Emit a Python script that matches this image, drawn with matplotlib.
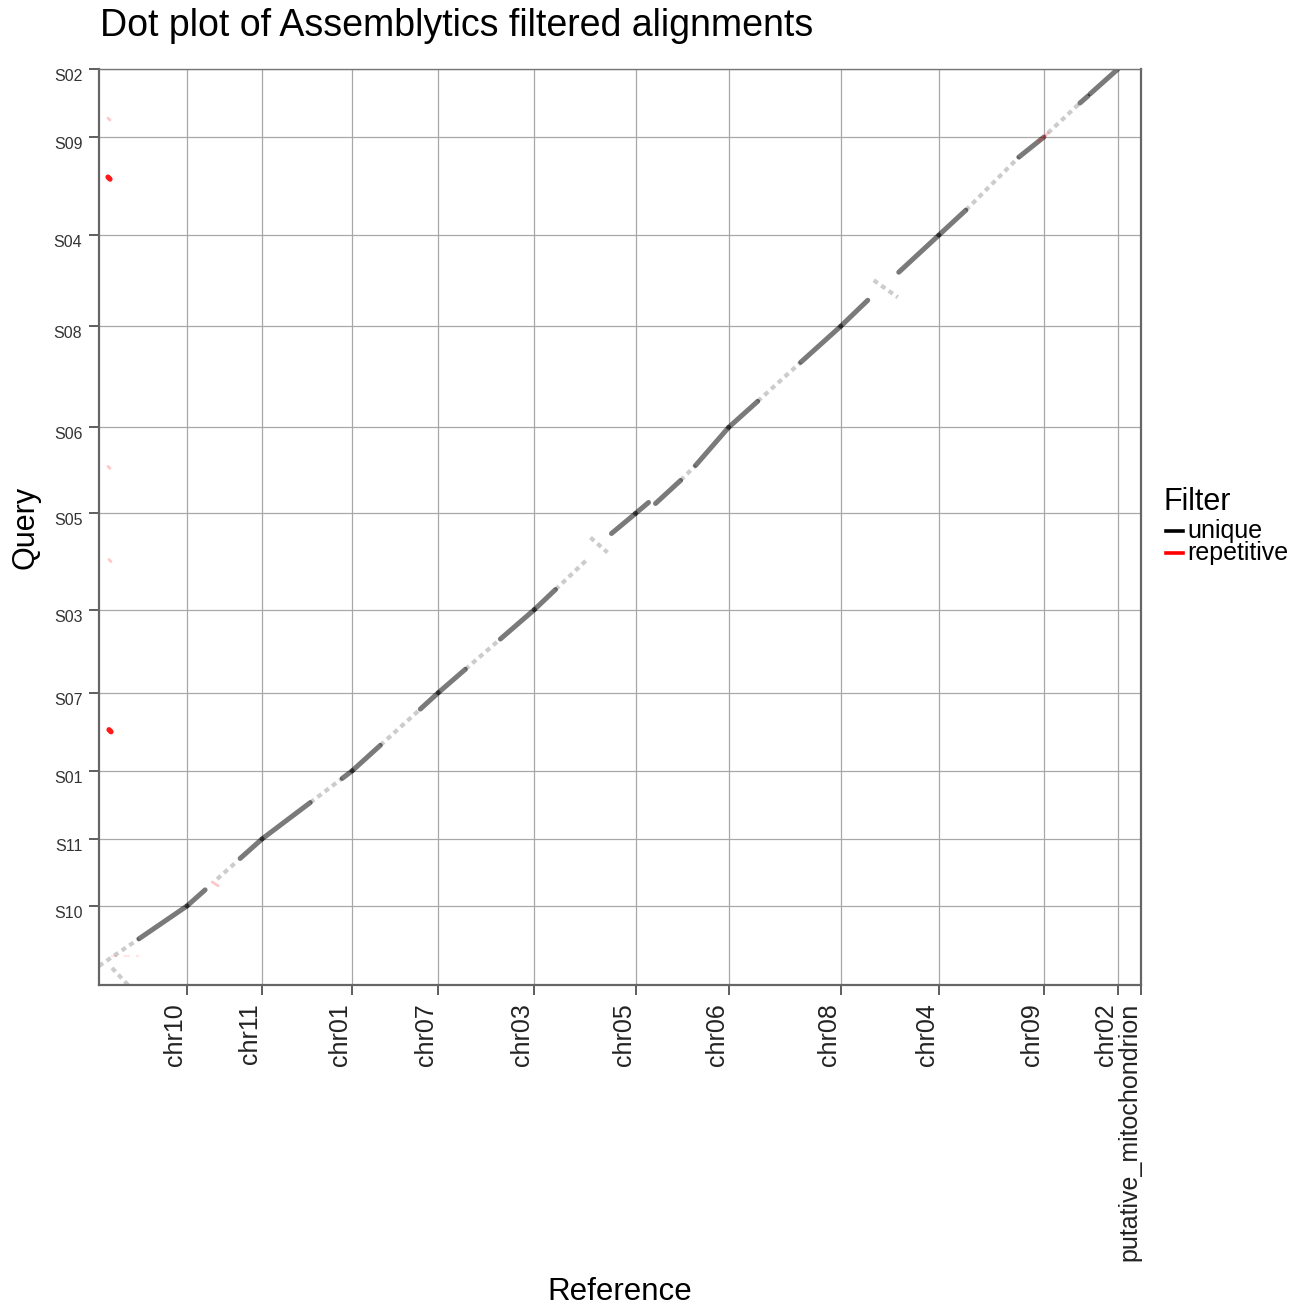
import numpy as np
import matplotlib.pyplot as plt
from matplotlib.lines import Line2D

plt.rcParams['font.family'] = ['Liberation Sans', 'DejaVu Sans']

# reference chromosomes (x axis) and their lengths in Mb
ref_chroms = ['chr10', 'chr11', 'chr01', 'chr07', 'chr03', 'chr05', 'chr06',
              'chr08', 'chr04', 'chr09', 'chr02', 'putative_mitochondrion']
ref_lengths = [44, 37.5, 45, 43, 48, 50.5, 46.5, 56, 49, 52.5, 37, 11.5]

# query scaffolds (y axis, bottom to top) and their lengths in Mb
qry_chroms = ['S10', 'S11', 'S01', 'S07', 'S03', 'S05', 'S06', 'S08', 'S04', 'S09', 'S02']
qry_lengths = [39.5, 33.5, 34, 39, 41.5, 48, 43, 50.5, 45.5, 49, 34]

# alignments: (ref, ref_start, ref_end, query, query_start, query_end), Mb
unique_strong = [
    ('chr10', 20, 44, 'S10', 23.1, 39.5),
    ('chr11', 0, 9, 'S11', 0, 8),
    ('chr11', 26.5, 37.5, 'S11', 23.7, 33.5),
    ('chr01', 0, 24, 'S01', 0, 18.1),
    ('chr01', 40, 45, 'S01', 30.2, 34),
    ('chr07', 0, 14, 'S07', 0, 12.7),
    ('chr07', 34, 43, 'S07', 30.8, 39),
    ('chr03', 0, 13.5, 'S03', 0, 11.7),
    ('chr03', 31, 48, 'S03', 26.8, 41.5),
    ('chr05', 0, 10.5, 'S05', 0, 10),
    ('chr05', 38.5, 50.5, 'S05', 38, 48),
    ('chr06', 0, 6.5, 'S06', 0, 5.5),
    ('chr06', 10, 22.5, 'S06', 5, 16.5),
    ('chr06', 30, 46.5, 'S06', 24, 43),
    ('chr08', 0, 14.5, 'S08', 0, 13),
    ('chr08', 36, 56, 'S08', 32.5, 50.5),
    ('chr04', 0, 13.5, 'S04', 0, 13),
    ('chr04', 29, 49, 'S04', 27, 45.5),
    ('chr09', 0, 13.5, 'S09', 0, 12.5),
    ('chr09', 40, 52.5, 'S09', 39, 49),
    ('chr02', 18, 22, 'S02', 17, 20.5),
    ('chr02', 23, 37, 'S02', 21.5, 34),
]

unique_weak = [
    ('chr10', 0, 20, 'S10', 9.5, 23.1),
    ('chr10', 6.5, 14.5, 'S10', 8.5, 0),
    ('chr11', 15, 25, 'S11', 13.4, 22.3),
    ('chr01', 24, 40, 'S01', 18.1, 30.2),
    ('chr07', 14, 34, 'S07', 12.7, 30.8),
    ('chr03', 13.5, 31, 'S03', 11.7, 26.8),
    ('chr05', 10.5, 26, 'S05', 10, 24.7),
    ('chr05', 28, 36.5, 'S05', 36, 28.5),
    ('chr06', 22.5, 30, 'S06', 16.5, 24),
    ('chr08', 14.5, 36, 'S08', 13, 32.5),
    ('chr04', 16.5, 28.5, 'S04', 23, 14.5),
    ('chr09', 13.5, 40, 'S09', 12.5, 39),
    ('chr02', 2, 18, 'S02', 2, 17),
]

repetitive = [
    ('chr10', 4.5, 5.5, 'S09', 29, 28),
    ('chr10', 5, 6, 'S07', 20.5, 19.5),
]

repetitive_faint = [
    ('chr10', 4.5, 5.5, 'S02', 9.5, 8.5),
    ('chr10', 4.5, 5.5, 'S06', 23.5, 22.5),
    ('chr10', 5, 6, 'S05', 25, 24),
    ('chr11', 12.5, 15.5, 'S11', 12, 10),
    ('chr09', 50, 52.5, 'S09', 47, 49),
    ('chr02', 0, 2, 'S02', 0, 2),
]

repetitive_trace = [
    ('chr10', 6, 20, 'S10', 14.5, 14.5),
]

# cumulative offsets so every chromosome gets its own slice of the axis
ref_ends = np.cumsum(ref_lengths)
ref_offset = dict(zip(ref_chroms, ref_ends - np.array(ref_lengths)))
qry_ends = np.cumsum(qry_lengths)
qry_offset = dict(zip(qry_chroms, qry_ends - np.array(qry_lengths)))


def draw(ax, rows, **style):
    for r, rs, re_, q, qs, qe in rows:
        x0 = ref_offset[r]
        y0 = qry_offset[q]
        ax.plot([x0 + rs, x0 + re_], [y0 + qs, y0 + qe], **style)


fig = plt.figure(figsize=(13.08, 13.11), dpi=100)
ax = fig.add_axes([99 / 1308, 1 - 985 / 1311, 1042 / 1308, 916 / 1311])

draw(ax, unique_weak, color='black', alpha=0.2, lw=3.0,
     linestyle=(0, (1.2, 1.0)), solid_capstyle='butt')
draw(ax, unique_strong, color='black', alpha=0.52, lw=3.6, solid_capstyle='round')
draw(ax, repetitive_trace, color='red', alpha=0.1, lw=1.5, linestyle=(0, (3, 3)))
draw(ax, repetitive_faint, color='red', alpha=0.22, lw=2.0, solid_capstyle='round')
draw(ax, repetitive, color='red', alpha=0.9, lw=3.8, solid_capstyle='round')

ax.set_xlim(0, ref_ends[-1])
ax.set_ylim(0, qry_ends[-1])

ax.set_xticks(ref_ends)
ax.set_xticklabels(ref_chroms, rotation=90, ha='right', va='top', fontsize=18,
                   color='#222222')
ax.set_yticks(qry_ends)
ax.set_yticklabels(qry_chroms, va='top', fontsize=11.5, color='#333333')
ax.tick_params(axis='both', direction='out', length=7, width=1.1, color='#333333')
ax.tick_params(axis='x', pad=6)
ax.tick_params(axis='y', pad=5)

ax.grid(True, color='#a8a8a8', lw=0.9)
ax.set_axisbelow(True)
for side in ['left', 'bottom', 'right']:
    ax.spines[side].set_color('#666666')
    ax.spines[side].set_linewidth(1.6)
ax.spines['top'].set_color('#777777')
ax.spines['top'].set_linewidth(1.0)

fig.text(100 / 1308, 1 - 26 / 1311, 'Dot plot of Assemblytics filtered alignments',
         fontsize=27, ha='left', va='center')
fig.text(620 / 1308, 1 - 1292 / 1311, 'Reference', fontsize=22.5, ha='center', va='center')
fig.text(25 / 1308, 1 - 527 / 1311, 'Query', fontsize=22, rotation=90,
         ha='center', va='center')

# legend
fig.text(1164 / 1308, 1 - 502 / 1311, 'Filter', fontsize=22, ha='left', va='center')
legend_items = [('unique', 'black', 531), ('repetitive', 'red', 553)]
for label, colour, ypx in legend_items:
    yf = 1 - ypx / 1311
    fig.add_artist(Line2D([1166 / 1308, 1183 / 1308], [yf, yf], color=colour, lw=2.6))
    fig.text(1187 / 1308, yf, label, fontsize=18, ha='left', va='center')

fig.savefig('out.png', dpi=100)
